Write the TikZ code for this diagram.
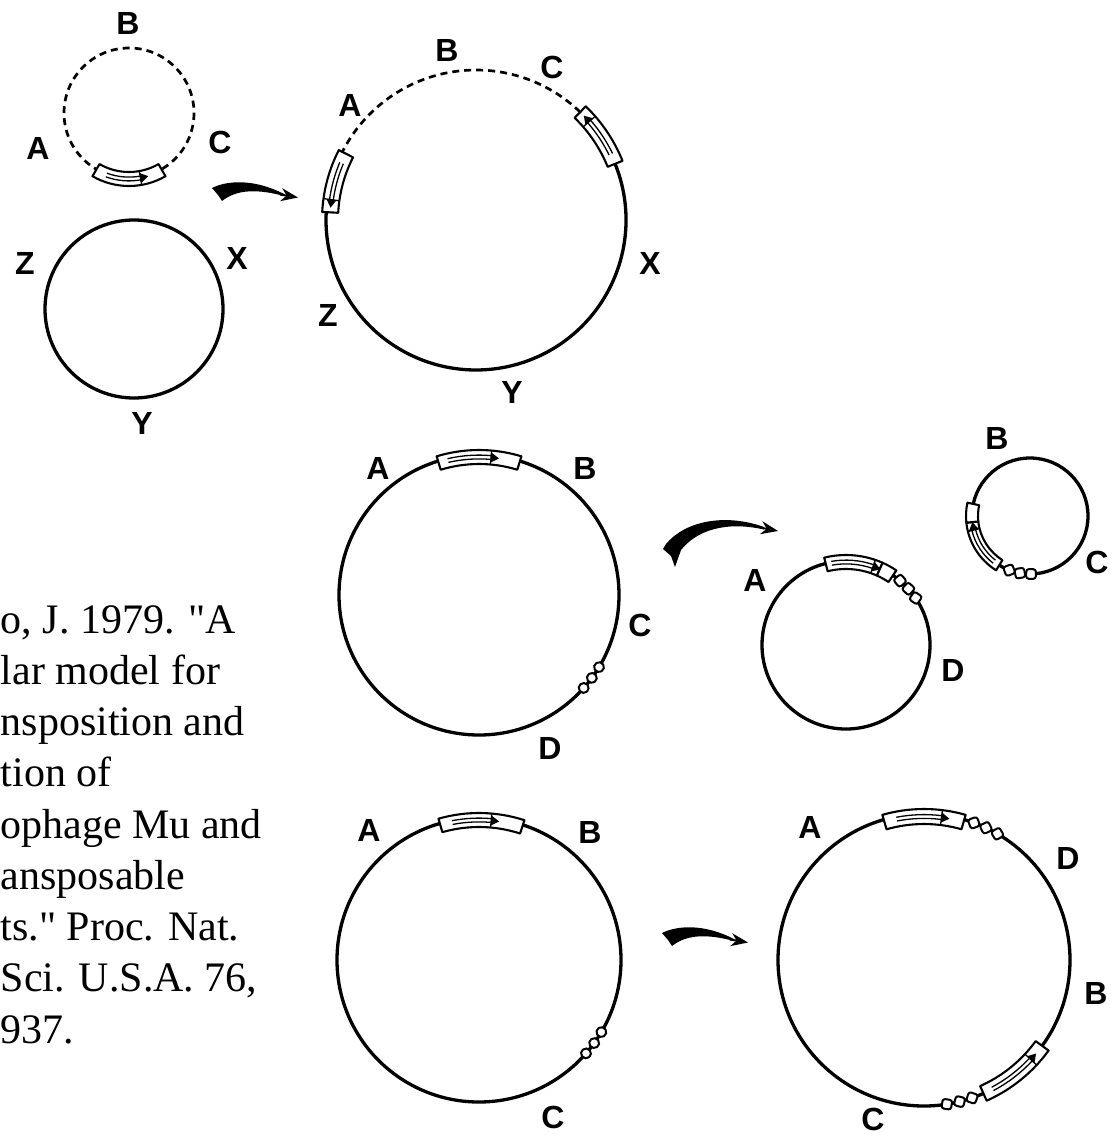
\documentclass[tikz,border=0pt]{standalone}
\usepackage{fontspec}
\setmainfont{Liberation Serif}[Ligatures=TeXOff]
\newfontfamily\labfont{Liberation Sans}
\usetikzlibrary{arrows.meta}

\tikzset{
  ring/.style={line width=3.3pt},
  ringdash/.style={line width=2.7pt, dash pattern=on 7pt off 5pt},
  boxline/.style={line width=2.1pt, fill=white, line join=round},
  innerline/.style={line width=1.3pt},
  beadline/.style={line width=2pt, fill=white},
  lab/.style={font=\labfont\bfseries\fontsize{32}{32}\selectfont, inner sep=0pt},
  cite/.style={font=\fontsize{42}{50}\selectfont, inner sep=0pt, anchor=base west},
  fatbody/.style={fill=black},
  fathead/.style={line width=2pt, -{Stealth[length=17pt,width=13pt]}}
}

% curved insertion element: #1 centre, #2 inner radius, #3 outer radius,
% #4 #5 end angles of the box, #6 #7 tail and head angles of the inner arrow
\newcommand{\tnbox}[7]{%
  \begin{scope}[shift={(#1)}]
    \filldraw[boxline] (#4:#2) arc[start angle=#4, end angle=#5, radius=#2]
      -- (#5:#3) arc[start angle=#5, end angle=#4, radius=#3] -- cycle;
    \pgfmathsetmacro\tnm{(#2+#3)/2}
    \pgfmathsetmacro\tna{\tnm-1.9}
    \pgfmathsetmacro\tnb{\tnm+1.9}
    \pgfmathsetmacro\tntip{#7+sign(#7-#6)*8*57.3/\tnm}
    \pgfmathsetmacro\tnlo{\tnm-5}
    \pgfmathsetmacro\tnhi{\tnm+5}
    \draw[innerline] (#6:\tna) arc[start angle=#6, end angle=#7, radius=\tna];
    \draw[innerline] (#6:\tnb) arc[start angle=#6, end angle=#7, radius=\tnb];
    \fill (#7:\tnlo) -- (\tntip:\tnm) -- (#7:\tnhi) -- cycle;
    \draw[innerline] (#7:#2) -- (#7:#3);
  \end{scope}}

% plain box segment without arrow
\newcommand{\tnplain}[5]{%
  \begin{scope}[shift={(#1)}]
    \filldraw[boxline] (#4:#2) arc[start angle=#4, end angle=#5, radius=#2]
      -- (#5:#3) arc[start angle=#5, end angle=#4, radius=#3] -- cycle;
  \end{scope}}

% small bead on a ring: #1 centre, #2 angle, #3 radius, #4 corner rounding
\newcommand{\tnbead}[4]{%
  \draw[beadline, shift={(#1)}, shift={(#2:#3)}, rotate=#2, rounded corners=#4]
    (-4.8,-4.8) rectangle (4.8,4.8);}

% tapered transfer arrow body
\newcommand{\tnflow}{%
  \fill[fatbody] (212,188) .. controls (228,180) and (255,179) .. (284,194)
    -- (284,196) .. controls (258,189) and (237,189) .. (222,201) -- (218,195) -- cycle;}

\begin{document}
\begin{tikzpicture}[x=1pt, y=-1pt]
\useasboundingbox (0,0) rectangle (1112,1137);

% ---------- donor and target rings ----------
\draw[ringdash] (129,113) circle[radius=65];
\tnbox{129,113}{59}{73}{60}{120}{110}{80}
\draw[ring] (134,309) circle[radius=89];
\node[lab] (a1) at (38,148) {A};
\node[lab] (b1) at (128,23) {B};
\node[lab] (c1) at (220,142) {C};
\node[lab] (z1) at (25,263) {Z};
\node[lab] (x1) at (237,258) {X};
\node[lab] (y1) at (142,423) {Y};

% fat arrow to the cointegrate
\tnflow
\coordinate (t1) at (298,197.5);
\draw[fathead] (280,194.5) -- (t1);

% ---------- cointegrate ----------
\draw[ringdash] (476,220) ++(-46:150) arc[start angle=-46, end angle=-153, radius=150];
\draw[ring] (476,220) ++(-22:150) arc[start angle=-22, end angle=183, radius=150];
\tnbox{476,220}{138}{154}{183}{207}{203}{188}
\tnbox{476,220}{142}{158}{-46}{-22}{-26}{-41}
\node[lab] (a2) at (350,105) {A};
\node[lab] (b2) at (447,50) {B};
\node[lab] (c2) at (552,67) {C};
\node[lab] (x2) at (650,263) {X};
\node[lab] (z2) at (328,315) {Z};
\node[lab] (y2) at (512,392) {Y};

% ---------- replicon with element, middle row ----------
\draw[ring] (479,595) circle[radius=140];
\tnbox{479,595}{131}{145}{-107}{-73}{-103}{-85}
\tnbead{479,595}{31}{140}{4.5pt}
\tnbead{479,595}{36.3}{140}{4.5pt}
\tnbead{479,595}{41.6}{140}{4.5pt}
\node[lab] (a3) at (378,468) {A};
\node[lab] (b3) at (585,468) {B};
\node[lab] (c3) at (640,625) {C};
\node[lab] (d3) at (550,748) {D};

% fat arrow, middle row
\fill[fatbody] (666,544) .. controls (685,521) and (725,513) .. (764,527)
  -- (764,529.5) .. controls (726,521) and (697,530) .. (681,550)
  -- (675,567) -- (671,556) -- (663,549) -- cycle;
\coordinate (t2) at (778,531);
\draw[fathead] (760,527.5) -- (t2);

% products of the deletion
\draw[ring] (846,645) circle[radius=84];
\tnbox{846,645}{76}{90}{-104}{-66}{-100}{-71}
\tnplain{846,645}{76}{90}{-66}{-56}
\tnbead{846,645}{-50}{84}{2.5pt}
\tnbead{846,645}{-42}{84}{2.5pt}
\tnbead{846,645}{-34}{84}{2.5pt}
\node[lab] (a4) at (755,580) {A};
\node[lab] (d4) at (953,670) {D};

\draw[ring] (1030,516) circle[radius=58];
\tnbox{1030,516}{52}{64}{122}{174}{128}{166}
\tnplain{1030,516}{52}{64}{174}{192}
\tnbead{1030,516}{111}{58}{2.5pt}
\tnbead{1030,516}{100}{58}{2.5pt}
\tnbead{1030,516}{89}{58}{2.5pt}
\node[lab] (b5) at (997,438) {B};
\node[lab] (c5) at (1097,562) {C};

% ---------- replicon with element, bottom row ----------
\draw[ring] (479,960) circle[radius=142];
\tnbox{479,960}{133}{147}{-106}{-72}{-101}{-85}
\tnbead{479,960}{30.5}{142}{4.5pt}
\tnbead{479,960}{35.8}{142}{4.5pt}
\tnbead{479,960}{41.1}{142}{4.5pt}
\node[lab] (a6) at (369,830) {A};
\node[lab] (b6) at (590,832) {B};
\node[lab] (c6) at (553,1117) {C};

% fat arrow, bottom row
\begin{scope}[shift={(450,745)}]
  \tnflow
  \coordinate (t3) at (298,197.5);
  \draw[fathead] (280,194.5) -- (t3);
\end{scope}

% inversion product
\draw[ring] (924,960) circle[radius=146];
\tnbox{924,960}{136}{151}{-106}{-74}{-101}{-83}
\tnbead{924,960}{-70}{146}{2.5pt}
\tnbead{924,960}{-64.9}{146}{2.5pt}
\tnbead{924,960}{-59.8}{146}{2.5pt}
\tnbox{924,960}{138}{154}{36}{66}{62}{43}
\tnbead{924,960}{81}{146}{2.5pt}
\tnbead{924,960}{75.9}{146}{2.5pt}
\tnbead{924,960}{70.8}{146}{2.5pt}
\node[lab] (a7) at (810,827) {A};
\node[lab] (d7) at (1068,858) {D};
\node[lab] (b7) at (1096,993) {B};
\node[lab] (c7) at (873,1119) {C};

% ---------- reference text at the left edge ----------
\node[cite] (r1) at (0.5,633) {o, J. 1979. "A};
\node[cite] (r2) at (0.6,684.25) {lar model for};
\node[cite] (r3) at (0.5,735.5) {nsposition and};
\node[cite] (r4) at (0.5,786.75) {tion of};
\node[cite] (r5) at (0.5,838) {ophage Mu and};
\node[cite] (r6) at (0.5,889.25) {ansposable};
\node[cite] (r7) at (0.5,940.5) {ts." Proc. Nat.};
\node[cite] (r8) at (0.5,991.75) {Sci. U.S.A. 76,};
\node[cite] (r9) at (0.5,1043) {937.};
\end{tikzpicture}
\end{document}
